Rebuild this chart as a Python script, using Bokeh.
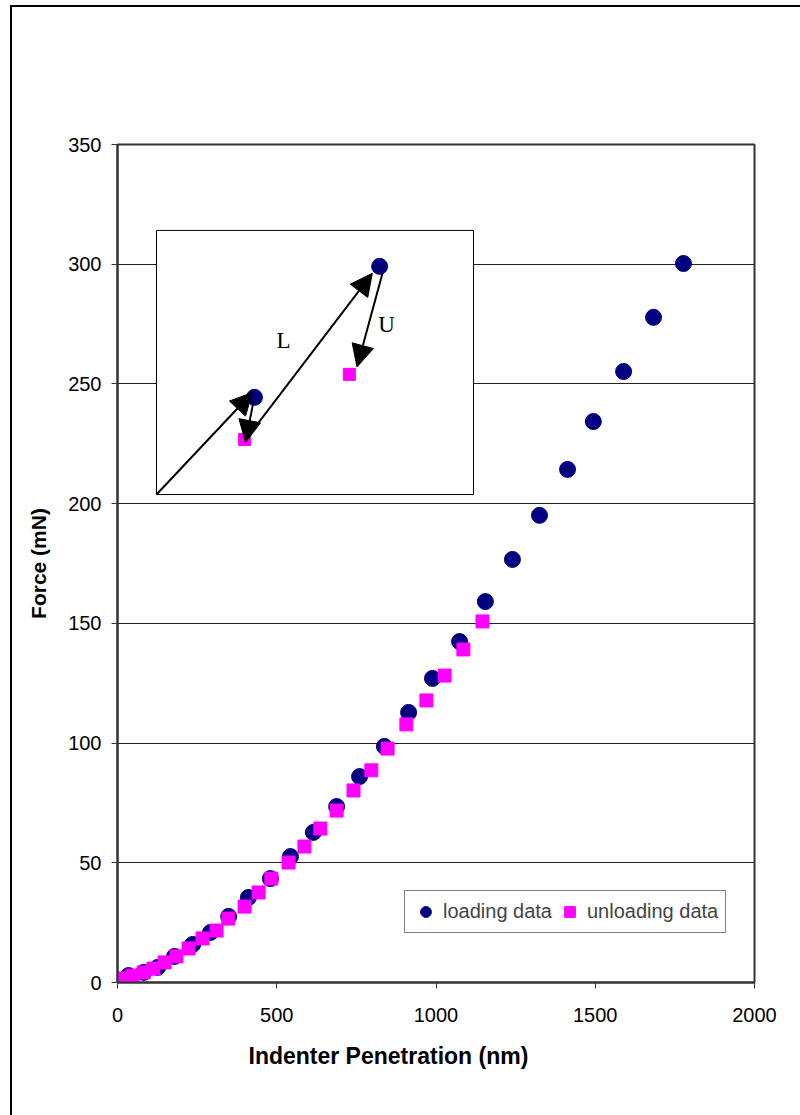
from bokeh.plotting import figure
from bokeh.models import Arrow, NormalHead, Label, Legend, LegendItem, FixedTicker, Title
from bokeh.embed import file_html
from bokeh.resources import INLINE

# Indentation test: penetration depth (nm) vs applied force (mN)
load_x = [0, 35, 82, 126, 179, 236, 292, 349, 411, 480, 543, 615, 688, 760,
          838, 914, 989, 1074, 1155, 1240, 1325, 1413, 1494, 1589, 1683, 1777]
load_y = [0.4, 2.9, 4.2, 6.3, 10.9, 15.9, 20.9, 27.6, 35.5, 43.4, 52.6, 62.7, 73.5, 86.0,
          98.6, 112.8, 127.0, 142.4, 159.1, 176.7, 195.1, 214.3, 234.3, 255.2, 277.8, 300.3]

unload_x = [1146, 1086, 1027, 970, 907, 848, 797, 741, 688, 637, 587, 537, 483,
            443, 399, 348, 311, 267, 223, 185, 148, 113, 82, 47, 22]
unload_y = [150.8, 139.1, 128.2, 117.8, 107.8, 97.7, 88.6, 80.2, 71.8, 64.3, 56.8, 50.1, 43.4,
            37.6, 31.7, 26.7, 21.7, 18.4, 14.2, 10.9, 8.4, 5.8, 4.2, 2.9, 1.7]

x_ticks = [0, 500, 1000, 1500, 2000]
y_ticks = [0, 50, 100, 150, 200, 250, 300, 350]

# Schematic of the loading (L) / unloading (U) cycle, drawn in the inset box
inset_load_x = [430, 823]
inset_load_y = [244.4, 299.1]
inset_unload_x = [399, 728]
inset_unload_y = [226.8, 254.0]

NAVY = "#000080"
MAGENTA = "#FF00FF"
FONT = "Liberation Sans"

p = figure(frame_width=637, frame_height=838,
           min_border_left=105, min_border_right=46,
           min_border_top=137, min_border_bottom=133,
           x_range=(0, 2000), y_range=(0, 350),
           output_backend="svg", toolbar_location=None)
p.margin = (5, 0, 0, 10)
p.styles = {"border-left": "2px solid #000000", "border-top": "2px solid #000000"}

p.background_fill_color = "white"
p.border_fill_color = "white"
p.outline_line_color = "#333333"
p.outline_line_width = 2

p.xgrid.grid_line_color = None
p.ygrid.grid_line_color = "#222222"
p.ygrid.grid_line_width = 1

p.xaxis.ticker = FixedTicker(ticks=x_ticks)
p.yaxis.ticker = FixedTicker(ticks=y_ticks)
for ax in (p.xaxis, p.yaxis):
    ax.axis_line_color = "#333333"
    ax.axis_line_width = 2
    ax.major_tick_line_color = "#333333"
    ax.major_tick_line_width = 1
    ax.major_tick_out = 6
    ax.major_tick_in = 0
    ax.minor_tick_line_color = None
    ax.major_label_text_font = FONT
    ax.major_label_text_font_size = "20px"
    ax.major_label_text_color = "black"
p.xaxis.major_label_standoff = 19
p.yaxis.major_label_standoff = 10

p.yaxis.axis_label = "Force (mN)"
p.yaxis.axis_label_text_font = FONT
p.yaxis.axis_label_text_font_style = "bold"
p.yaxis.axis_label_text_font_size = "21px"
p.yaxis.axis_label_text_color = "black"
p.yaxis.axis_label_standoff = 15

# x-axis title, set a little left of the frame centre
p.add_layout(Title(text="Indenter Penetration (nm)", align="left", offset=131,
                   text_font=FONT, text_font_style="bold", text_font_size="23px",
                   text_color="black", standoff=33), "below")

# measured data
r_load = p.scatter(load_x, load_y, marker="circle", size=16,
                   fill_color=NAVY, line_color=NAVY)
r_unload = p.scatter(unload_x, unload_y, marker="square", size=13,
                     fill_color=MAGENTA, line_color=MAGENTA)

# inset box
p.quad(left=122.4, right=1117.7, bottom=203.8, top=314.1,
       fill_color="white", line_color="black", line_width=1)
p.scatter(inset_load_x, inset_load_y, marker="circle", size=16,
          fill_color=NAVY, line_color=NAVY)
p.scatter(inset_unload_x, inset_unload_y, marker="square", size=12,
          fill_color=MAGENTA, line_color=MAGENTA)

def arrow(x0, y0, x1, y1):
    p.add_layout(Arrow(end=NormalHead(size=22, fill_color="black", line_color="black"),
                       x_start=x0, y_start=y0, x_end=x1, y_end=y1,
                       line_color="black", line_width=2))

arrow(122.4, 203.8, 424, 246.4)
arrow(427, 242.7, 402, 225.6)
arrow(408, 227.7, 800, 296.2)
arrow(832, 296.2, 752, 257.1)

for txt, tx, ty in (("L", 521, 268.2), ("U", 845, 274.9)):
    p.add_layout(Label(x=tx, y=ty, text=txt, text_font="Liberation Serif",
                       text_font_size="23px", text_align="center",
                       text_baseline="middle", text_color="black"))

legend = Legend(items=[LegendItem(label="loading data", renderers=[r_load]),
                       LegendItem(label="unloading data", renderers=[r_unload])],
                orientation="horizontal", location=(287, 49),
                border_line_color="black", border_line_width=1,
                background_fill_color="white", background_fill_alpha=1,
                label_text_font=FONT, label_text_font_size="20px",
                glyph_width=27, glyph_height=27, padding=7, spacing=4,
                label_standoff=4, margin=0)
p.add_layout(legend)

open("out.html", "w").write(file_html(p, INLINE))
